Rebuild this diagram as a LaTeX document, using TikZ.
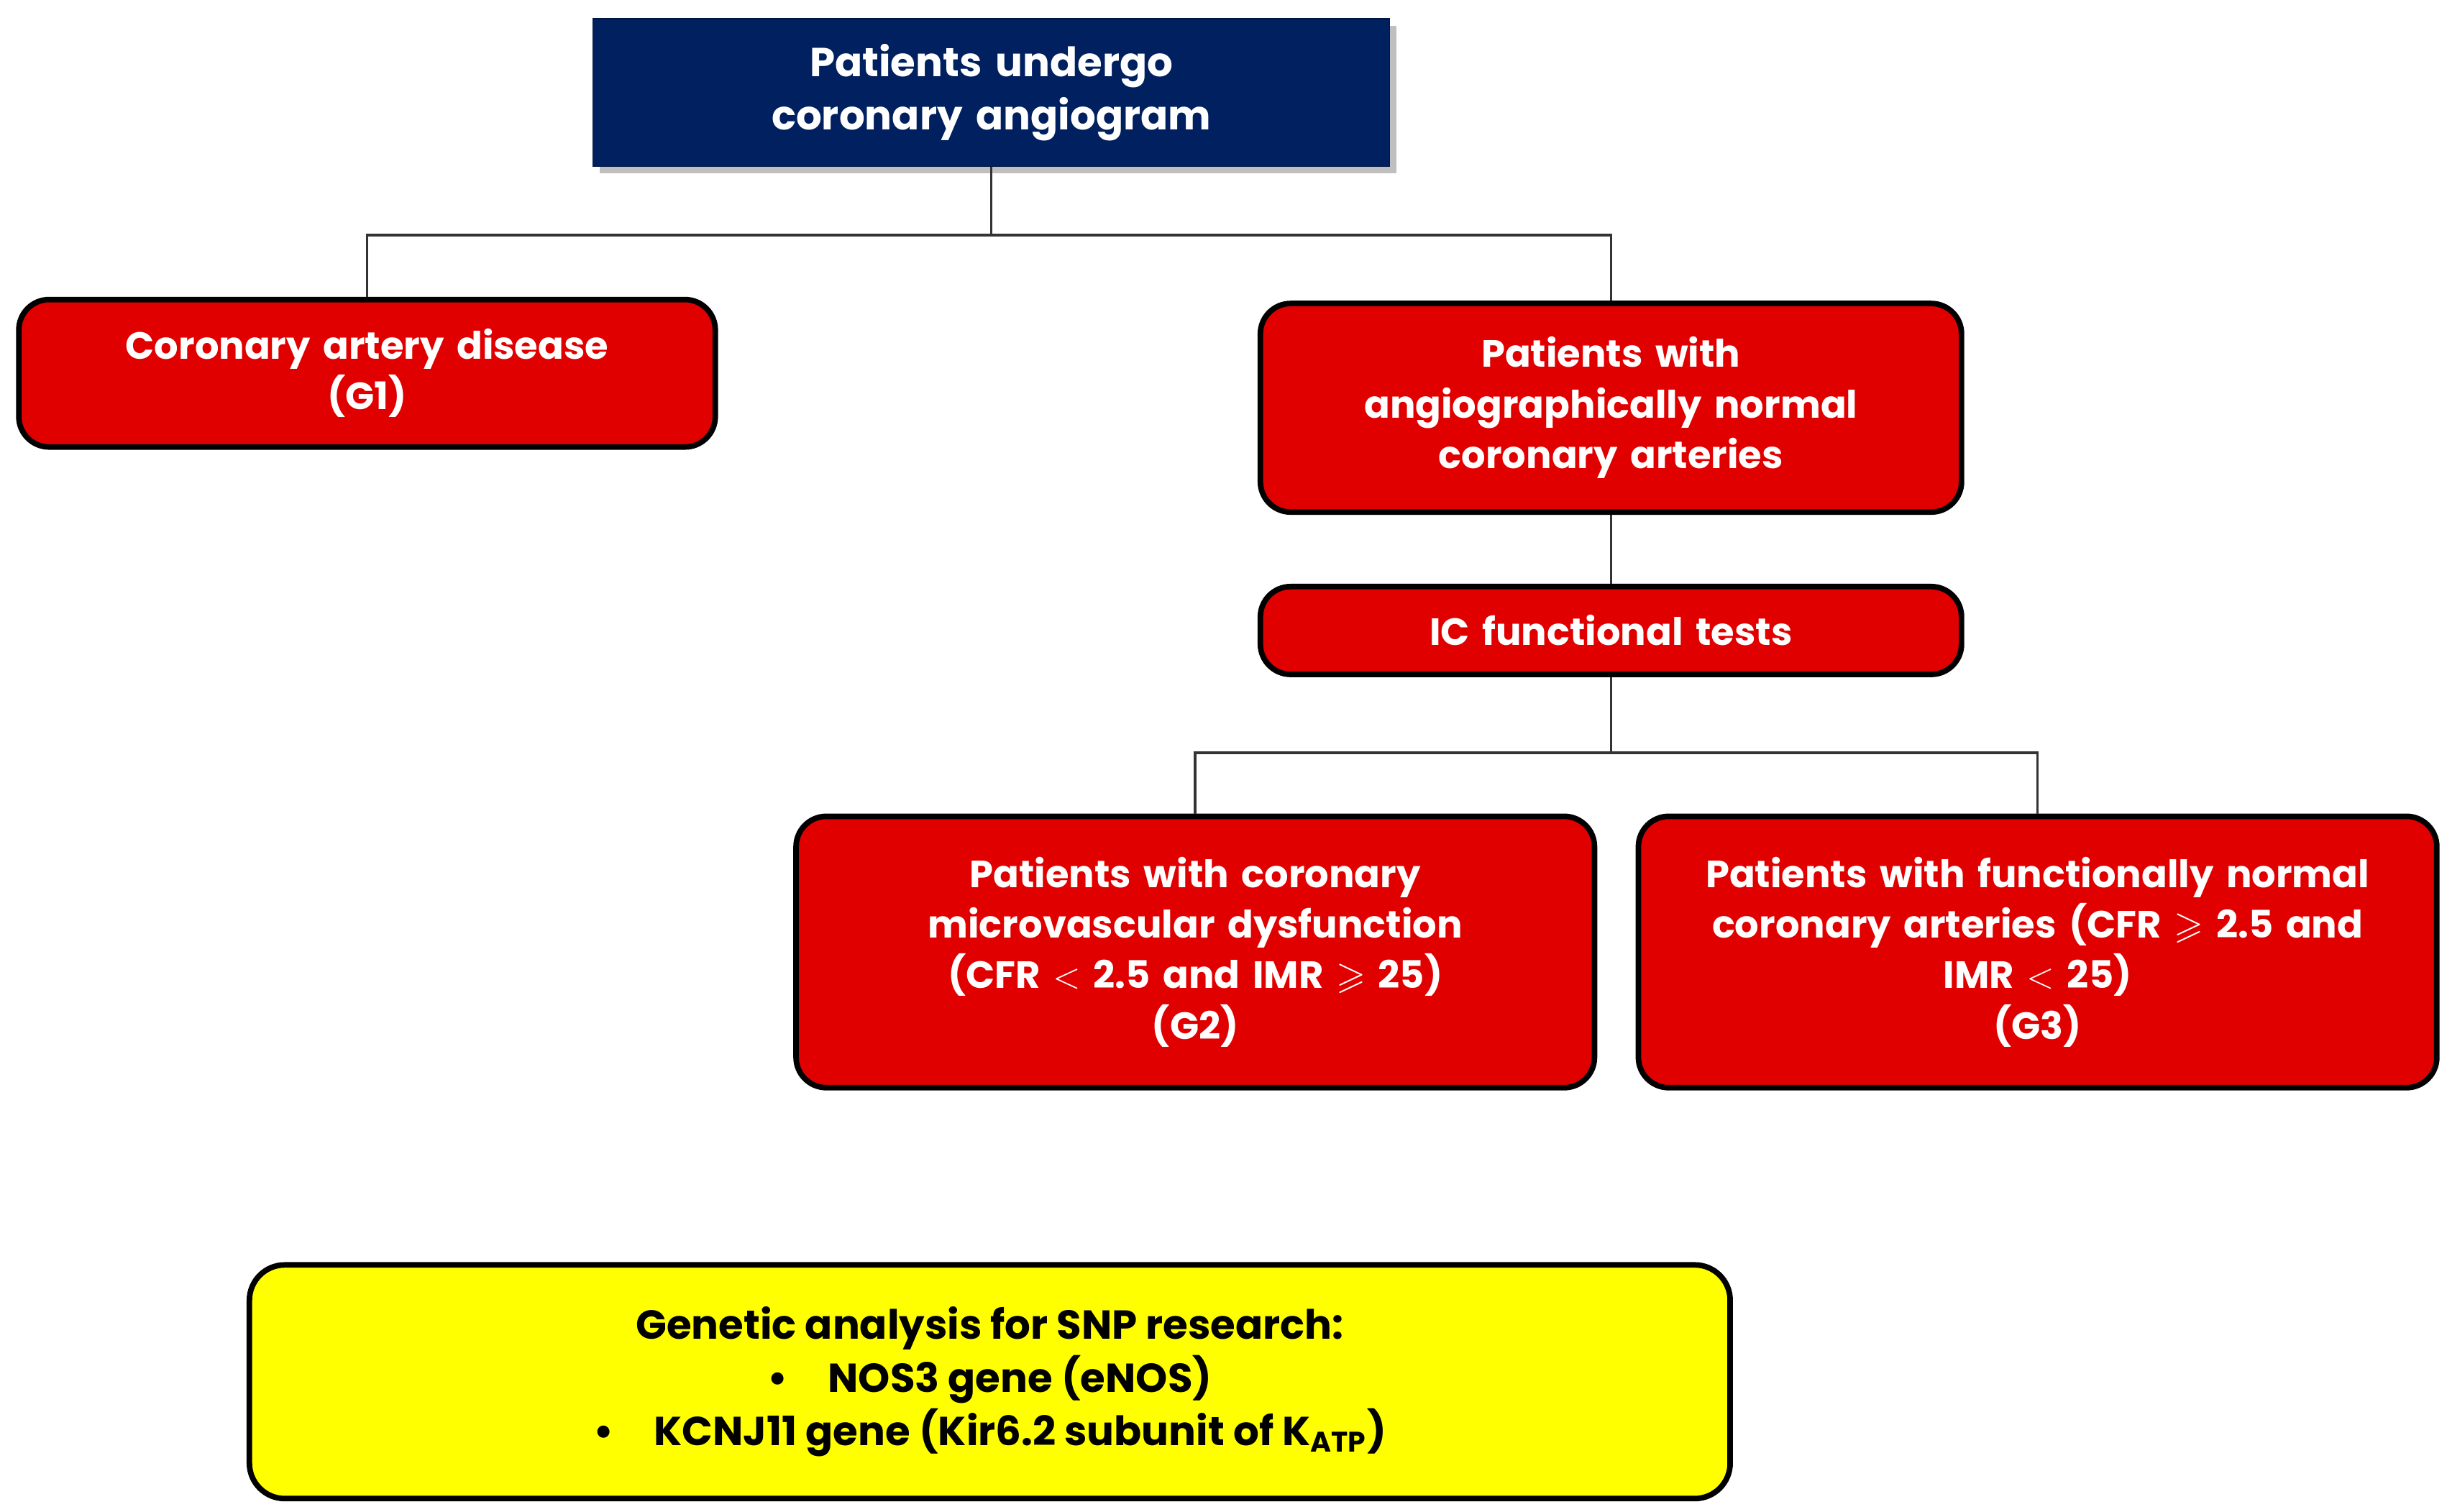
\documentclass[tikz,border=0pt]{standalone}
\usepackage{fontspec}
\usepackage{amssymb}
\setmainfont{Poppins}
\usetikzlibrary{shadows}
\definecolor{navy}{RGB}{0,32,96}
\definecolor{boxred}{RGB}{224,0,0}
\definecolor{boxyellow}{RGB}{255,255,0}
\tikzset{
  redbox/.style={draw=black, line width=2.2pt, rounded corners=12pt, fill=boxred,
    text=white, font=\fontsize{15}{20}\selectfont\bfseries, align=center, inner sep=2pt},
  link/.style={draw=black!80, line width=1pt}
}
\begin{document}
\begin{tikzpicture}[x=0.02181cm, y=-0.02181cm]
	\useasboundingbox (0,0) rectangle (1560,964);
	% top
	\node[fill=navy, draw=navy!70!black, drop shadow, text=white, font=\fontsize{16}{21}\selectfont\bfseries,
	  align=center, minimum width=508*0.02181cm, minimum height=94*0.02181cm, text width=440*0.02181cm]
	  (angio) at (632,59) {Patients undergo coronary angiogram};

	% groups
	\node[redbox, minimum width=444*0.02181cm, minimum height=94*0.02181cm, text width=420*0.02181cm]
	  (cad) at (234,238) {Coronary artery disease\\(G1)};
	\node[redbox, minimum width=447*0.02181cm, minimum height=133*0.02181cm, text width=420*0.02181cm]
	  (normal) at (1027,260) {Patients with\\angiographically normal\\coronary arteries};
	\node[redbox, minimum width=447*0.02181cm, minimum height=56*0.02181cm, text width=420*0.02181cm]
	  (ictest) at (1027,402) {IC functional tests};
	\node[redbox, minimum width=509*0.02181cm, minimum height=173*0.02181cm, text width=480*0.02181cm]
	  (cmd) at (762,607) {Patients with coronary\\microvascular dysfunction\\(CFR $<$ 2.5 and IMR $\geqslant$ 25)\\(G2)};
	\node[redbox, minimum width=509*0.02181cm, minimum height=173*0.02181cm, text width=480*0.02181cm]
	  (fnormal) at (1299,607) {Patients with functionally normal\\coronary arteries (CFR $\geqslant$ 2.5 and\\IMR $<$ 25)\\(G3)};

	% genetics
	\node[draw=black, line width=2.2pt, rounded corners=14pt, fill=boxyellow, align=center,
	  font=\fontsize{16}{21}\selectfont\bfseries, minimum width=944*0.02181cm, minimum height=149*0.02181cm]
	  (snp) at (631,881) {Genetic analysis for SNP research:\\
	  \textbullet\quad NOS3 gene (eNOS)\\
	  \textbullet\quad KCNJ11 gene (Kir6.2 subunit of K\textsubscript{ATP})};

	% tree
	\coordinate (split1) at (632,150);
	\coordinate (split2) at (1027,480);
	\draw[link] (angio.south) -- (split1);
	\draw[link] (cad.north) |- (split1) -| (normal.north);
	\draw[link] (normal.south) -- (ictest.north);
	\draw[link] (ictest.south) -- (split2);
	\draw[link] (cmd.north) |- (split2) -| (fnormal.north);
\end{tikzpicture}
\end{document}
